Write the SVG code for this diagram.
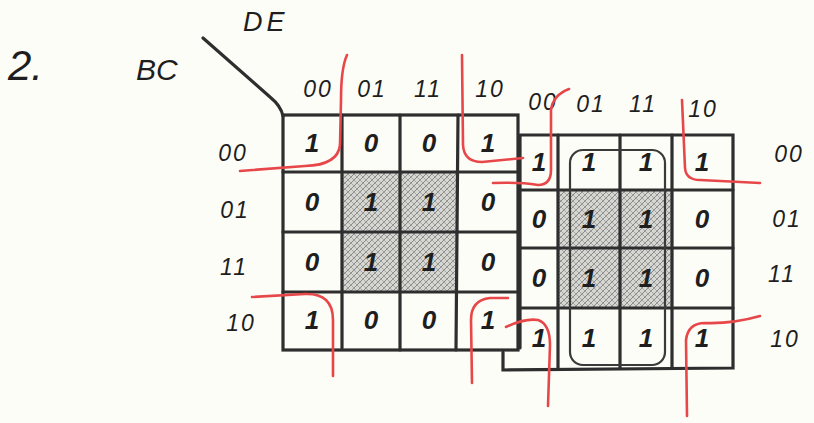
<svg xmlns="http://www.w3.org/2000/svg" width="814" height="423" viewBox="0 0 814 423">
<defs>
<pattern id="hatch" width="6" height="6" patternUnits="userSpaceOnUse">
<rect width="6" height="6" fill="#d6d6d2"/>
<path d="M0 6 L6 0 M-1 1 L1 -1 M5 7 L7 5" stroke="#7e7e7c" stroke-width="0.9"/>
<path d="M0 0 L6 6" stroke="#9c9c9a" stroke-width="0.8"/>
</pattern>
<style>
.g{fill:none;stroke:#2e2e2e;stroke-width:3.2;stroke-linecap:round}
.thin{fill:none;stroke:#3a3a3a;stroke-width:2.2}
.red{fill:none;stroke:#e8474a;stroke-width:2.6;stroke-linecap:round;stroke-linejoin:round}
.v{font-family:"Liberation Sans",Arial,sans-serif;font-style:italic;font-weight:bold;font-size:26px;fill:#1e1e1e;text-anchor:middle}
.h{font-family:"Liberation Sans",Arial,sans-serif;font-style:italic;font-size:23px;fill:#1e1e1e;text-anchor:middle;letter-spacing:2px}
.t{font-family:"Liberation Sans",Arial,sans-serif;font-style:italic;fill:#1e1e1e}
</style>
</defs>
<rect width="814" height="423" fill="#fdfdf7"/>

<g id="title">
<text class="t" x="8" y="80" font-size="42">2.</text>
<text class="t" x="136" y="80" font-size="30">BC</text>
<text class="t" x="243" y="31" font-size="27" letter-spacing="4">DE</text>
<path class="g" d="M203 38 L270 97 Q281 106 283 116"/>
</g>

<g id="map-left">
<rect x="342" y="172" width="116" height="120" fill="url(#hatch)"/>
<rect class="g" x="283" y="115" width="235" height="235"/>
<path class="g" d="M342 115 L342 348 M400 115 L400 350 M458 115 L456 350 M283 172 L518 172 M283 232 L518 232 M283 292 L518 292"/>
<text class="h" x="318" y="97">00</text>
<text class="h" x="372" y="97">01</text>
<text class="h" x="428" y="97">11</text>
<text class="h" x="490" y="97">10</text>
<text class="h" x="233" y="161">00</text>
<text class="h" x="235" y="218">01</text>
<text class="h" x="234" y="275">11</text>
<text class="h" x="241" y="331">10</text>
<text class="v" x="312" y="152">1</text>
<text class="v" x="371" y="152">0</text>
<text class="v" x="429" y="152">0</text>
<text class="v" x="488" y="152">1</text>
<text class="v" x="312" y="211">0</text>
<text class="v" x="371" y="211">1</text>
<text class="v" x="429" y="211">1</text>
<text class="v" x="488" y="211">0</text>
<text class="v" x="312" y="271">0</text>
<text class="v" x="371" y="271">1</text>
<text class="v" x="429" y="271">1</text>
<text class="v" x="488" y="271">0</text>
<text class="v" x="312" y="329">1</text>
<text class="v" x="371" y="329">0</text>
<text class="v" x="429" y="329">0</text>
<text class="v" x="488" y="329">1</text>
</g>

<g id="map-right">
<rect x="558" y="190" width="114" height="118" fill="url(#hatch)"/>
<path class="g" d="M520 135 L733 135 L733 368 L503 370 L503 352 M520 135 L520 348"/>
<path class="g" d="M558 135 L558 368 M620 135 L620 368 M672 135 L672 368 M520 190 L733 190 M520 248 L733 248 M520 308 L733 308"/>
<rect class="thin" x="570" y="150" width="95" height="215" rx="13"/>
<text class="h" x="543" y="110">00</text>
<text class="h" x="591" y="112">01</text>
<text class="h" x="643" y="112">11</text>
<text class="h" x="703" y="117">10</text>
<text class="h" x="789" y="162">00</text>
<text class="h" x="787" y="227">01</text>
<text class="h" x="782" y="282">11</text>
<text class="h" x="785" y="347">10</text>
<text class="v" x="539" y="171">1</text>
<text class="v" x="589" y="171">1</text>
<text class="v" x="646" y="171">1</text>
<text class="v" x="702" y="171">1</text>
<text class="v" x="539" y="228">0</text>
<text class="v" x="589" y="228">1</text>
<text class="v" x="646" y="228">1</text>
<text class="v" x="702" y="228">0</text>
<text class="v" x="539" y="287">0</text>
<text class="v" x="589" y="287">1</text>
<text class="v" x="646" y="287">1</text>
<text class="v" x="702" y="287">0</text>
<text class="v" x="539" y="347">1</text>
<text class="v" x="589" y="347">1</text>
<text class="v" x="646" y="347">1</text>
<text class="v" x="702" y="347">1</text>
</g>

<g id="connectors">
<path class="red" d="M347 55 Q341 68 341 100 L340 145 Q338 165 305 166 L240 171"/>
<path class="red" d="M462 55 L463 145 Q464 162 482 162 L523 158"/>
<path class="red" d="M252 297 L305 294 Q333 293 333 320 L333 376"/>
<path class="red" d="M472 383 L471 320 Q471 300 490 298 L508 298"/>
<path class="red" d="M493 183 Q520 182 538 185 Q551 185 551 170 L551 110 Q553 95 569 89"/>
<path class="red" d="M682 100 L685 168 Q686 180 700 180 L760 183"/>
<path class="red" d="M506 327 Q525 318 538 320 Q550 324 550 345 L548 406"/>
<path class="red" d="M687 416 L686 340 Q688 323 705 323 Q732 324 760 316"/>
</g>
</svg>
